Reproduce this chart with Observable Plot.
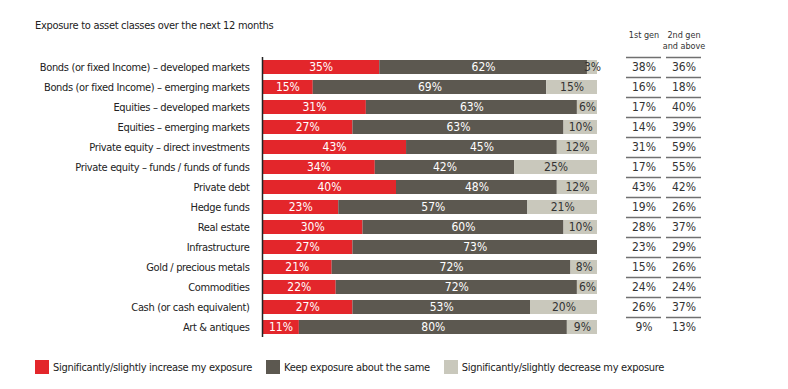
<!DOCTYPE html>
<html>
<head>
<meta charset="utf-8">
<script src="https://cdn.jsdelivr.net/npm/d3@7"></script>
<script src="https://cdn.jsdelivr.net/npm/@observablehq/plot@0.6"></script>
<style>
  html, body { margin: 0; padding: 0; background: #fff; }
  #wrap { position: relative; width: 788px; height: 389px; font-family: "DejaVu Sans Condensed", "Liberation Sans Narrow", sans-serif; color: #222; }
  #title { position: absolute; left: 35px; top: 19px; font-size: 11px; letter-spacing: -0.3px; }
  #main { position: absolute; left: 0; top: 0; }
  #table { position: absolute; left: 610px; top: 0; }
  #main g[aria-label="y-axis tick label"] text { letter-spacing: -0.35px; }
  #legend { position: absolute; left: 35px; top: 360px; display: flex; align-items: center; font-size: 11px; letter-spacing: -0.3px; }
  .sw { display: inline-block; width: 14px; height: 14px; margin-right: 4px; }
  .item { display: flex; align-items: center; margin-right: 14px; }
</style>
</head>
<body>
<div id="wrap">
  <div id="title">Exposure to asset classes over the next 12 months</div>
  <div id="main"></div>
  <div id="table"></div>
  <div id="legend"></div>
</div>
<script>
const categories = [
  "Bonds (or fixed Income) – developed markets",
  "Bonds (or fixed Income) – emerging markets",
  "Equities – developed markets",
  "Equities – emerging markets",
  "Private equity – direct investments",
  "Private equity – funds / funds of funds",
  "Private debt",
  "Hedge funds",
  "Real estate",
  "Infrastructure",
  "Gold / precious metals",
  "Commodities",
  "Cash (or cash equivalent)",
  "Art & antiques"
];
const groups = [
  "Significantly/slightly increase my exposure",
  "Keep exposure about the same",
  "Significantly/slightly decrease my exposure"
];
const colors = ["#e3262b", "#5c5850", "#c9c8bc"];
const increase = [35, 15, 31, 27, 43, 34, 40, 23, 30, 27, 21, 22, 27, 11];
const same     = [62, 69, 63, 63, 45, 42, 48, 57, 60, 73, 72, 72, 53, 80];
const decrease = [3, 15, 6, 10, 12, 25, 12, 21, 10, 0, 8, 6, 20, 9];
const genHeaders = ["1st gen", "2nd gen\nand above"];
const gen1 = [38, 16, 17, 14, 31, 17, 43, 19, 28, 23, 15, 24, 26, 9];
const gen2 = [36, 18, 40, 39, 59, 55, 42, 26, 37, 29, 26, 24, 37, 13];

const series = [increase, same, decrease];
const data = [];
categories.forEach((c, i) => {
  groups.forEach((g, j) => data.push({category: c, group: g, value: series[j][i]}));
});
const tableData = [];
categories.forEach((c, i) => {
  tableData.push({category: c, gen: genHeaders[0], value: gen1[i]});
  tableData.push({category: c, gen: genHeaders[1], value: gen2[i]});
});

const FONT = '"DejaVu Sans Condensed", "Liberation Sans Narrow", sans-serif';
const H = 345, MT = 57, MB = 8;
const yOpts = {domain: categories, paddingInner: 0.3, paddingOuter: 0.15, align: 0.5};
const baseStyle = {fontFamily: FONT, fontSize: "11px", color: "#222", background: "transparent", overflow: "visible"};

const stackOpts = {x: "value", y: "category", z: "group", offset: "normalize"};
const main = Plot.plot({
  width: 610, height: H,
  marginLeft: 262, marginRight: 13, marginTop: MT, marginBottom: MB,
  style: baseStyle,
  x: {domain: [0, 1], axis: null},
  y: {...yOpts, label: null, tickSize: 0, tickPadding: 13},
  color: {domain: groups, range: colors},
  marks: [
    Plot.barX(data, Plot.stackX({...stackOpts, fill: "group"})),
    Plot.text(data, Plot.stackX({...stackOpts,
      text: d => (d.group !== groups[2] && d.value) ? d.value + "%" : "",
      fill: "white", fontSize: 12})),
    Plot.text(data, Plot.stackX({...stackOpts,
      text: d => (d.group === groups[2] && d.value) ? d.value + "%" : "",
      fill: "#333", fontSize: 12})),
    Plot.ruleX([0], {stroke: "#222", strokeWidth: 1.5})
  ]
});
document.getElementById("main").appendChild(main);

const table = Plot.plot({
  width: 178, height: H,
  marginLeft: 16, marginRight: 86, marginTop: MT, marginBottom: MB,
  style: baseStyle,
  x: {domain: genHeaders, paddingInner: 0.12, paddingOuter: 0, axis: null},
  y: {...yOpts, axis: null},
  marks: [
    Plot.tickY(tableData, {x: "gen", y: "category", dy: -10, stroke: "#707070", strokeWidth: 1.5}),
    Plot.text(tableData, {x: "gen", y: "category", text: d => d.value + "%", fill: "#333", fontSize: 12}),
    Plot.text(genHeaders, {x: d => d, text: d => d, frameAnchor: "top", lineAnchor: "top", dy: -28, fontSize: 9, lineHeight: 1.25, fill: "#333"})
  ]
});
document.getElementById("table").appendChild(table);

const legend = document.getElementById("legend");
groups.forEach((g, i) => {
  const item = document.createElement("span");
  item.className = "item";
  const sw = document.createElement("span");
  sw.className = "sw";
  sw.style.background = colors[i];
  item.appendChild(sw);
  item.appendChild(document.createTextNode(g));
  legend.appendChild(item);
});
</script>
</body>
</html>
